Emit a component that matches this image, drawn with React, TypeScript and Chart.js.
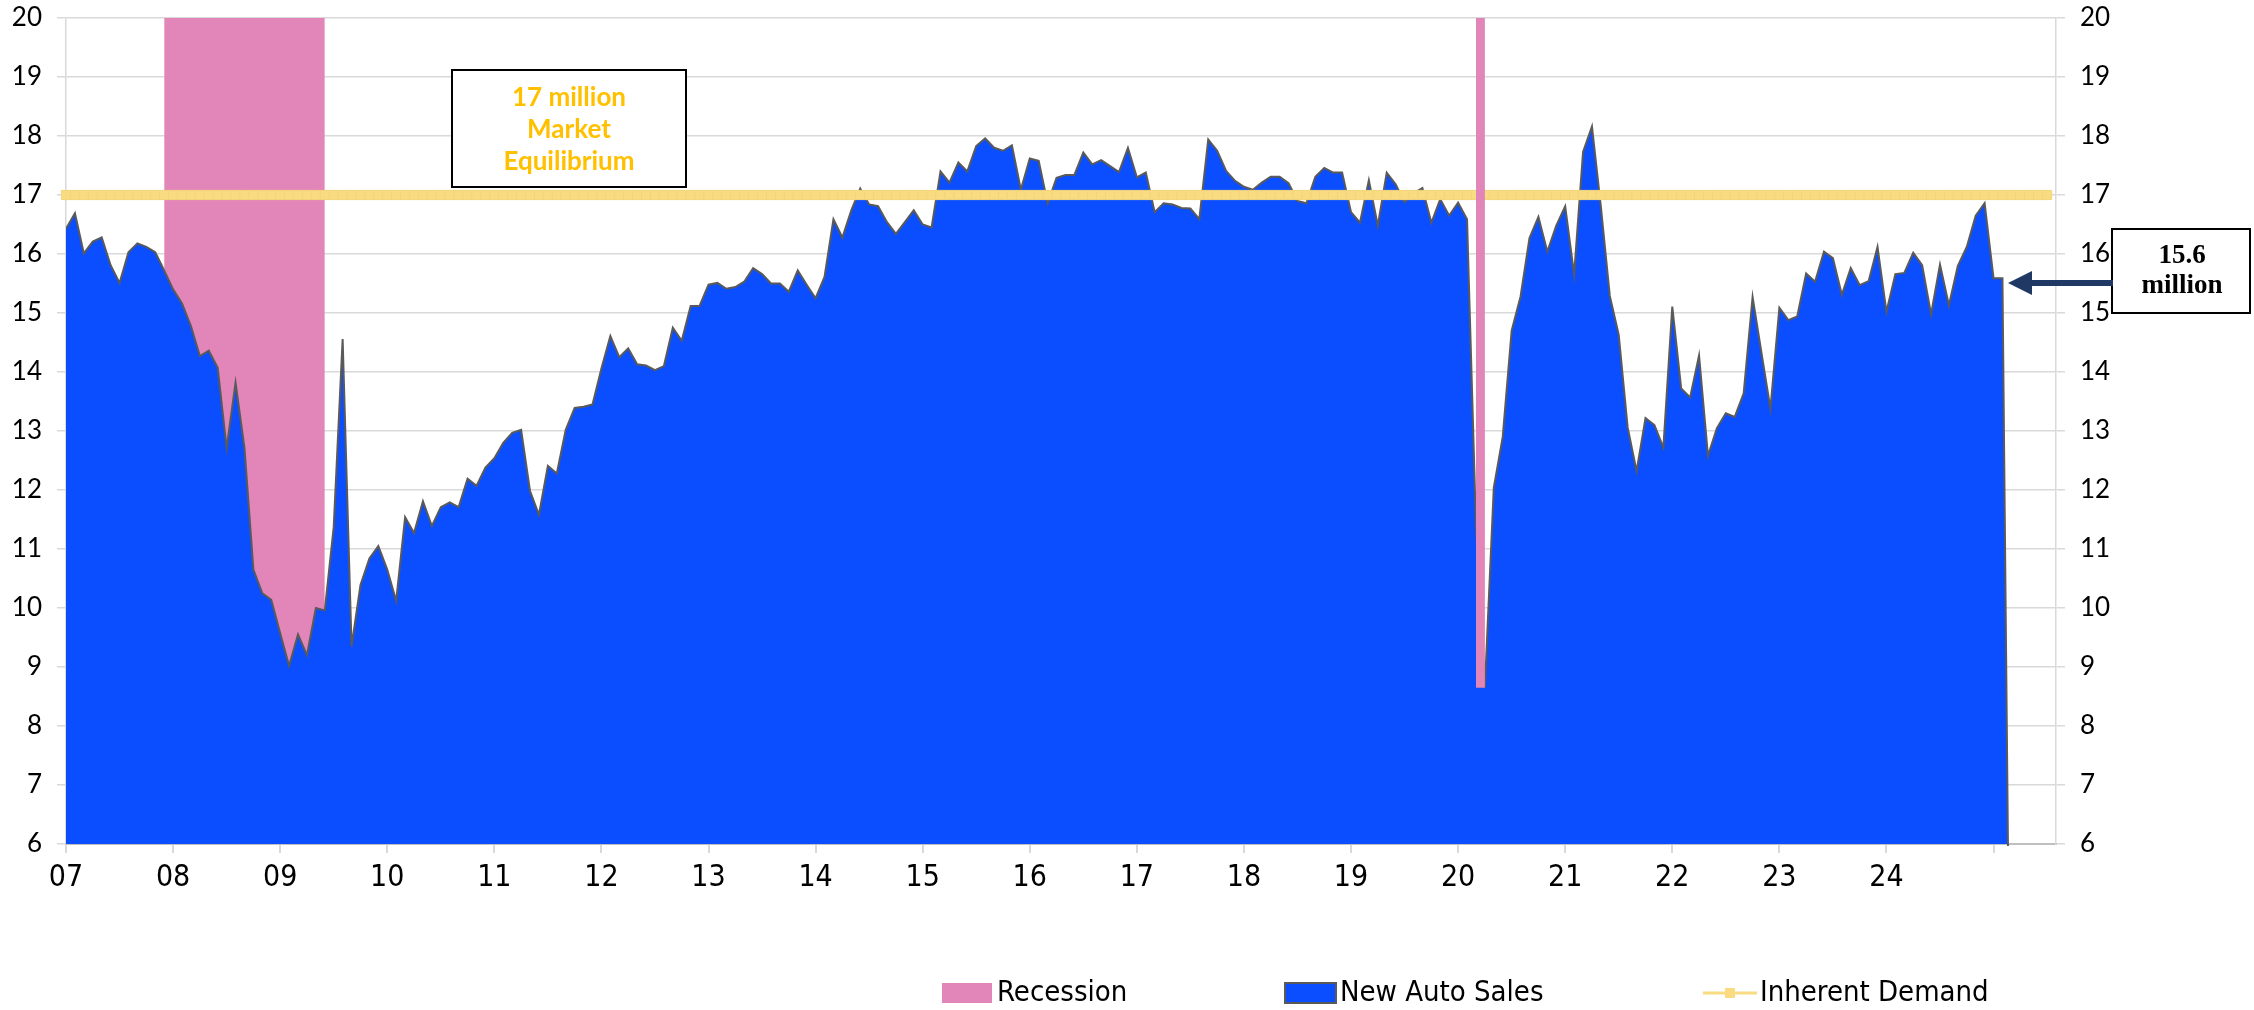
import { useEffect, useRef } from "react";
import { Chart, registerables } from "chart.js";

Chart.register(...registerables);

// ---------------- DATA ----------------
const START_YEAR = 2007;
const MONTH_NAMES = ["Jan", "Feb", "Mar", "Apr", "May", "Jun", "Jul", "Aug", "Sep", "Oct", "Nov", "Dec"];
const AXIS_MONTHS = 224; // Jan 2007 .. Aug 2025

// New auto sales, SAAR (millions), monthly
const sales2007 = [16.43, 16.69, 16.01, 16.21, 16.28, 15.81, 15.51, 16.03, 16.18, 16.12, 16.03, 15.72];
const sales2008 = [15.4, 15.16, 14.78, 14.27, 14.36, 14.07, 12.71, 13.82, 12.71, 10.65, 10.25, 10.14];
const sales2009 = [9.57, 9.02, 9.55, 9.2, 10.0, 9.96, 11.37, 14.56, 9.35, 10.39, 10.84, 11.05];
const sales2010 = [10.65, 10.12, 11.54, 11.27, 11.81, 11.39, 11.71, 11.79, 11.71, 12.19, 12.07, 12.38];
const sales2011 = [12.54, 12.8, 12.97, 13.02, 11.98, 11.58, 12.41, 12.28, 13.02, 13.39, 13.41, 13.45];
const sales2012 = [14.06, 14.61, 14.25, 14.4, 14.13, 14.11, 14.03, 14.1, 14.75, 14.53, 15.12, 15.12];
const sales2013 = [15.48, 15.51, 15.41, 15.44, 15.53, 15.76, 15.66, 15.5, 15.5, 15.36, 15.72, 15.48];
const sales2014 = [15.25, 15.61, 16.59, 16.28, 16.74, 17.11, 16.84, 16.81, 16.54, 16.34, 16.54, 16.74];
const sales2015 = [16.5, 16.45, 17.4, 17.21, 17.55, 17.4, 17.83, 17.96, 17.8, 17.75, 17.84, 17.09];
const sales2016 = [17.62, 17.58, 16.86, 17.29, 17.34, 17.34, 17.72, 17.52, 17.59, 17.49, 17.39, 17.8];
const sales2017 = [17.3, 17.38, 16.71, 16.86, 16.84, 16.78, 16.77, 16.59, 17.94, 17.75, 17.41, 17.24];
const sales2018 = [17.14, 17.09, 17.21, 17.31, 17.31, 17.2, 16.9, 16.86, 17.31, 17.46, 17.38, 17.38];
const sales2019 = [16.71, 16.53, 17.25, 16.48, 17.38, 17.18, 16.88, 17.03, 17.12, 16.53, 16.93, 16.65];
const sales2020 = [16.87, 16.59, 11.4, 8.65, 12.04, 12.9, 14.7, 15.28, 16.27, 16.63, 16.04, 16.48];
const sales2021 = [16.81, 15.65, 17.73, 18.16, 16.8, 15.29, 14.63, 13.06, 12.32, 13.22, 13.1, 12.72];
const sales2022 = [15.11, 13.72, 13.57, 14.28, 12.58, 13.05, 13.3, 13.24, 13.64, 15.27, 14.32, 13.38];
const sales2023 = [15.09, 14.88, 14.94, 15.67, 15.53, 16.04, 15.93, 15.31, 15.76, 15.47, 15.54, 16.12];
const sales2024 = [15.02, 15.66, 15.68, 16.02, 15.81, 14.98, 15.82, 15.13, 15.8, 16.12, 16.65, 16.86];
const sales2025 = [15.59, 15.59, 0, 0, 0, 0, 0, 0];

const yearTickLabels = ["07", "08", "09", "10", "11", "12", "13", "14", "15", "16", "17", "18", "19", "20", "21", "22", "23", "24"];

const recessionPeriods = [
  { start: "Dec 2007", end: "Jun 2009" },
  { start: "Mar 2020", end: "Apr 2020" },
];
const RECESSION_LEVEL = 20;

const INHERENT_DEMAND = 17;
const inherentDemandLast = "Jul 2025";

const equilibriumText = ["17 million", "Market", "Equilibrium"];
const latestText = ["15.6", "million"];
const legendNames = ["Recession", "New Auto Sales", "Inherent Demand"];

// ---------------- BUILD ----------------
const monthLabels: string[] = [];
for (let i = 0; i < AXIS_MONTHS; i++) {
  monthLabels.push(`${MONTH_NAMES[i % 12]} ${START_YEAR + Math.floor(i / 12)}`);
}
const newAutoSales = [
  ...sales2007, ...sales2008, ...sales2009, ...sales2010, ...sales2011, ...sales2012,
  ...sales2013, ...sales2014, ...sales2015, ...sales2016, ...sales2017, ...sales2018,
  ...sales2019, ...sales2020, ...sales2021, ...sales2022, ...sales2023, ...sales2024, ...sales2025,
];
const recessionSeries = (p: { start: string; end: string }) => {
  const s = monthLabels.indexOf(p.start);
  const e = monthLabels.indexOf(p.end);
  return monthLabels.map((_, i) => (i >= s && i <= e ? RECESSION_LEVEL : null));
};
const covidTrough = Math.min(...sales2020);
const lastDemandIdx = monthLabels.indexOf(inherentDemandLast);
const inherentDemand = monthLabels.map((_, i) => (i <= lastDemandIdx ? INHERENT_DEMAND : null));

// ---------------- STYLE ----------------
const PINK = "#E285B8";
const BLUE = "#0A4EFF";
const YELLOW = "#F9DC82";
const AMBER = "#FFC000";
const NAVY = "#1F3864";
const GRID = "#D9D9D9";
const NARROW = '"Liberation Sans Narrow", "DejaVu Sans Condensed", "Arial Narrow", sans-serif';

const overlayPlugin = {
  id: "overlay",
  afterDraw(chart: any) {
    const ctx = chart.ctx as CanvasRenderingContext2D;
    ctx.save();
    // Equilibrium box
    ctx.fillStyle = "#fff";
    ctx.fillRect(452, 70, 234, 117);
    ctx.strokeStyle = "#000";
    ctx.lineWidth = 2;
    ctx.strokeRect(452, 70, 234, 117);
    ctx.fillStyle = AMBER;
    ctx.font = "bold 26px Lato";
    ctx.textAlign = "center";
    ctx.textBaseline = "middle";
    equilibriumText.forEach((t, k) => ctx.fillText(t, 569, 98 + k * 32));

    // Latest value box
    ctx.fillStyle = "#fff";
    ctx.fillRect(2112, 229, 138, 84);
    ctx.strokeStyle = "#000";
    ctx.lineWidth = 2;
    ctx.strokeRect(2112, 229, 138, 84);
    ctx.fillStyle = "#000";
    ctx.font = 'bold 27px "Liberation Serif", serif';
    ctx.fillText(latestText[0], 2182, 256);
    ctx.fillText(latestText[1], 2182, 286);

    // Arrow
    ctx.strokeStyle = NAVY;
    ctx.fillStyle = NAVY;
    ctx.lineWidth = 6;
    ctx.beginPath();
    ctx.moveTo(2113, 283);
    ctx.lineTo(2026, 283);
    ctx.stroke();
    ctx.beginPath();
    ctx.moveTo(2008, 283);
    ctx.lineTo(2032, 271);
    ctx.lineTo(2032, 295);
    ctx.closePath();
    ctx.fill();

    // Legend
    const ly = 993;
    ctx.font = `29px ${NARROW}`;
    ctx.textAlign = "left";
    ctx.textBaseline = "middle";
    ctx.fillStyle = PINK;
    ctx.fillRect(942, 983, 50, 20);
    ctx.fillStyle = "#000";
    ctx.fillText(legendNames[0], 997, ly);

    ctx.fillStyle = BLUE;
    ctx.fillRect(1285, 983, 51, 20);
    ctx.strokeStyle = "#5A5A5A";
    ctx.lineWidth = 2;
    ctx.strokeRect(1285, 983, 51, 20);
    ctx.fillStyle = "#000";
    ctx.fillText(legendNames[1], 1340, ly);

    ctx.strokeStyle = YELLOW;
    ctx.lineWidth = 3;
    ctx.beginPath();
    ctx.moveTo(1703, ly);
    ctx.lineTo(1757, ly);
    ctx.stroke();
    ctx.fillStyle = YELLOW;
    ctx.fillRect(1725, ly - 5, 10, 10);
    ctx.fillStyle = "#000";
    ctx.fillText(legendNames[2], 1760, ly);
    ctx.restore();
  },
};

export default function App() {
  const ref = useRef<HTMLCanvasElement | null>(null);

  useEffect(() => {
    document.body.style.margin = "0";
    const canvas = ref.current;
    if (!canvas) return;
    const chart = new Chart(canvas, {
      type: "line",
      data: {
        labels: monthLabels,
        datasets: [
          {
            label: legendNames[0],
            data: recessionSeries(recessionPeriods[0]),
            fill: "start",
            backgroundColor: PINK,
            borderWidth: 0,
            pointRadius: 0,
            order: 4,
            clip: 0,
          } as any,
          {
            label: legendNames[1],
            data: newAutoSales,
            fill: "start",
            backgroundColor: BLUE,
            borderColor: "#5A5A5A",
            borderWidth: 2,
            pointRadius: 0,
            tension: 0,
            order: 3,
            clip: { left: 0, top: 2, right: 0, bottom: 2 },
          } as any,
          {
            label: legendNames[2],
            data: inherentDemand,
            fill: false,
            borderColor: YELLOW,
            borderWidth: 5,
            pointStyle: "rect",
            pointRadius: 6.5,
            pointBackgroundColor: YELLOW,
            pointBorderColor: "#F2D57A",
            pointBorderWidth: 1,
            order: 2,
            clip: false,
          } as any,
          {
            label: legendNames[0],
            data: recessionSeries(recessionPeriods[1]),
            fill: { value: covidTrough },
            backgroundColor: PINK,
            borderWidth: 0,
            pointRadius: 0,
            order: 0,
            clip: 0,
          } as any,
        ],
      },
      options: {
        responsive: false,
        devicePixelRatio: 1,
        animation: false,
        events: [],
        layout: { padding: { top: 18, left: 0, right: 0, bottom: 0 } },
        plugins: {
          legend: { display: false },
          tooltip: { enabled: false },
        },
        scales: {
          x: {
            type: "category",
            offset: false,
            afterBuildTicks: (scale: any) => {
              scale.ticks = scale.ticks.filter((t: any) => t.value % 12 === 0);
            },
            afterFit: (scale: any) => {
              scale.height = 166;
            },
            grid: {
              display: true,
              drawOnChartArea: false,
              drawTicks: true,
              tickLength: 9,
              color: GRID,
              lineWidth: 2,
            },
            border: { display: true, color: "#BFBFBF", width: 2 },
            ticks: {
              autoSkip: false,
              maxRotation: 0,
              minRotation: 0,
              padding: 7,
              color: "#000",
              font: { family: NARROW, size: 30 },
              callback: (value: any) => yearTickLabels[Math.round(Number(value) / 12)] ?? "",
            },
          },
          y: {
            position: "left",
            min: 6,
            max: 20,
            afterFit: (scale: any) => {
              scale.width = 66;
              scale.paddingTop = 0;
              scale.paddingBottom = 0;
            },
            grid: { color: GRID, lineWidth: 1.5, tickLength: 9 },
            border: { display: true, color: GRID, width: 1.5 },
            ticks: {
              stepSize: 1,
              padding: 15,
              color: "#000",
              font: { family: "Lato", size: 26 },
            },
          },
          y2: {
            position: "right",
            min: 6,
            max: 20,
            afterFit: (scale: any) => {
              scale.width = 198;
              scale.paddingTop = 0;
              scale.paddingBottom = 0;
            },
            grid: { drawOnChartArea: false, color: GRID, lineWidth: 1.5, tickLength: 9 },
            border: { display: true, color: GRID, width: 1.5 },
            ticks: {
              stepSize: 1,
              padding: 15,
              color: "#000",
              font: { family: "Lato", size: 26 },
            },
          },
        },
      } as any,
      plugins: [overlayPlugin],
    });
    return () => chart.destroy();
  }, []);

  return (
    <div style={{ width: 2254, height: 1010, overflow: "hidden", background: "#fff" }}>
      <canvas ref={ref} width={2254} height={1010} style={{ display: "block", width: 2254, height: 1010 }} />
    </div>
  );
}
